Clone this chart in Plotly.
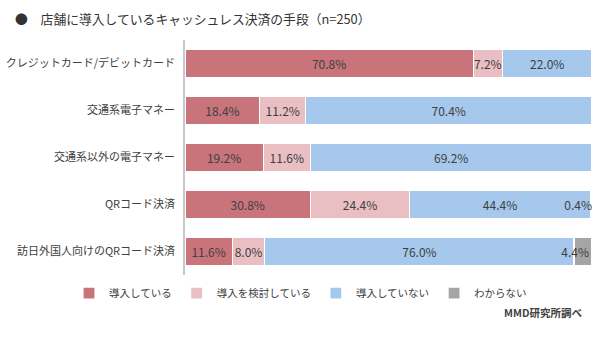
import plotly.graph_objects as go

categories = ["クレジットカード/デビットカード", "交通系電子マネー", "交通系以外の電子マネー",
              "QRコード決済", "訪日外国人向けのQRコード決済"]
series_names = ["導入している", "導入を検討している", "導入していない", "わからない"]
introduced = [70.8, 18.4, 19.2, 30.8, 11.6]
considering = [7.2, 11.2, 11.6, 24.4, 8.0]
not_introduced = [22.0, 70.4, 69.2, 44.4, 76.0]
unknown = [0.0, 0.0, 0.0, 0.4, 4.4]
colors = ["#C9737B", "#E9BFC4", "#A5C8EC", "#A5A5A5"]

title_text = "●　店舗に導入しているキャッシュレス決済の手段（n=250）"
source_text = "MMD研究所調べ"

FONT = "Noto Sans CJK JP"
fig = go.Figure()
for name, vals, col in zip(series_names, [introduced, considering, not_introduced, unknown], colors):
    is_last = name == "わからない"
    fig.add_trace(go.Bar(
        y=categories, x=vals, name=name, orientation="h",
        marker=dict(color=col, line=dict(color="white", width=1.2)),
        text=[f"{v:.1f}%" if v > 0 else "" for v in vals],
        textposition="inside", textangle=0, constraintext="none",
        insidetextanchor="end" if is_last else "middle",
        textfont=dict(family=FONT, size=12, color="#404040"),
        hoverinfo="skip",
    ))

fig.update_layout(
    barmode="stack", bargap=0.41,
    width=600, height=337,
    margin=dict(l=185, r=8, t=40, b=62),
    paper_bgcolor="white", plot_bgcolor="white",
    font=dict(family=FONT, color="#404040"),
    xaxis=dict(range=[0, 100], showgrid=False, showticklabels=False, zeroline=False,
               showline=False, fixedrange=True, automargin=False),
    yaxis=dict(autorange="reversed", showgrid=False, showline=True, linecolor="#C8C8C8",
               linewidth=1.5, ticks="", ticklabelstandoff=6, automargin=False,
               tickfont=dict(family=FONT, size=11, color="#404040")),
    legend=dict(orientation="h", x=-0.285, xanchor="left", y=-0.077, yanchor="middle",
                font=dict(family=FONT, size=10.5, color="#404040"), traceorder="normal",
                bgcolor="rgba(0,0,0,0)"),
    showlegend=True,
    annotations=[
        dict(text=title_text, xref="paper", yref="paper", x=(13 - 185) / 407, y=(275 - 18) / 235,
             xanchor="left", yanchor="middle", showarrow=False,
             font=dict(family=FONT, size=12.8, color="#333333")),
        dict(text="<b>" + source_text + "</b>", xref="paper", yref="paper", x=(584 - 185) / 407,
             y=(275 - 312) / 235, xanchor="right", yanchor="middle", showarrow=False,
             font=dict(family=FONT, size=10.5, color="#404040")),
    ],
)

fig.write_html("out.html")
